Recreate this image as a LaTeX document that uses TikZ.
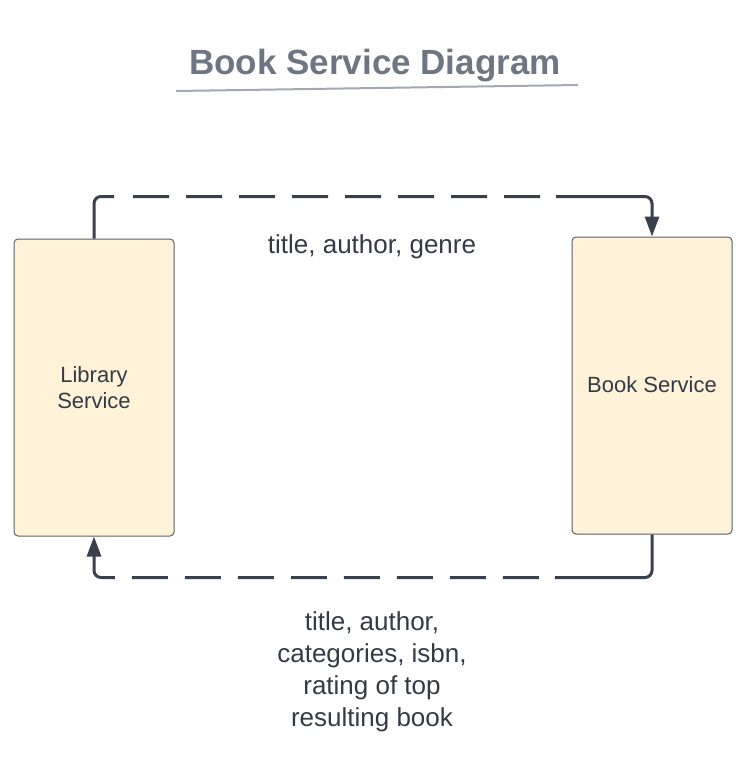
\documentclass[tikz,border=0pt]{standalone}
\usepackage{fontspec}
\setmainfont{Liberation Sans}
\usetikzlibrary{arrows.meta}
\definecolor{boxfill}{HTML}{FEF2D8}
\definecolor{boxline}{HTML}{5C5F66}
\definecolor{flowcol}{HTML}{3A404B}
\definecolor{textcol}{HTML}{343A45}
\definecolor{titlecol}{HTML}{6E7583}
\definecolor{rulecol}{HTML}{A3A8B4}

\begin{document}
\begin{tikzpicture}[x=1pt,y=-1pt,
	service/.style={draw=boxline,fill=boxfill,line width=1pt,rounded corners=4pt,minimum width=160pt,minimum height=297pt,text=textcol,align=center,font=\fontsize{22}{26}\selectfont},
	flow/.style={draw=flowcol,line width=3pt,-{Triangle[length=20pt,width=14pt]}},
	label/.style={text=textcol,align=center,font=\fontsize{26}{32}\selectfont}]
	\useasboundingbox (0,0) rectangle (745,778);
	\node[text=titlecol,font=\fontsize{35}{42}\bfseries\selectfont] (title) at (375,66) {Book Service Diagram};
	\draw[rulecol,line width=2pt] (176,91) coordinate (ruleL) -- (578,85) coordinate (ruleR);
	\node[service] (lib) at (94,387.5) {Library\\Service};
	\node[service] (book) at (652,385.5) {\raisebox{2pt}{Book Service}};
	% request: library -> book
	\draw[flow,dash pattern=on 59pt off 19pt on 36pt off 17pt on 36pt off 17pt on 36pt off 17pt on 36pt off 17pt on 36pt off 17pt on 36pt off 17pt on 36pt off 17pt on 36pt off 16pt on 400pt off 1pt]
		(lib.north) [rounded corners=7pt] -- ++(0,-42) -| (book.north) [sharp corners];
	% reply: book -> library
	\draw[flow,dash pattern=on 137pt off 16pt on 36pt off 17pt on 36pt off 17pt on 36pt off 17pt on 36pt off 17pt on 36pt off 17pt on 36pt off 17pt on 36pt off 17pt on 36pt off 17pt on 400pt off 1pt]
		(book.south) [rounded corners=7pt] -- ++(0,43) -| (lib.south) [sharp corners];
	\node[label] (request) at (372,247) {title, author, genre};
	\node[label] (reply) at (372,672) {title, author,\\categories, isbn,\\rating of top\\resulting book};
\end{tikzpicture}
\end{document}
